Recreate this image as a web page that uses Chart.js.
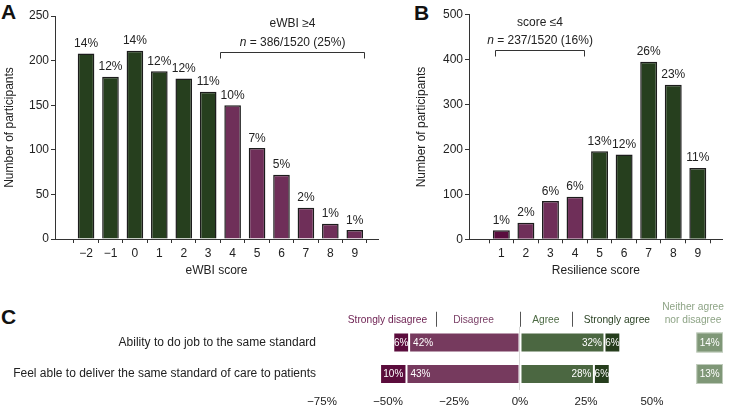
<!DOCTYPE html>
<html>
<head>
<meta charset="utf-8">
<script src="https://cdn.jsdelivr.net/npm/chart.js@4.4.0/dist/chart.umd.min.js"></script>
<style>
  body { margin: 0; background: #fff; width: 729px; height: 409px; overflow: hidden; position: relative; font-family: "Liberation Sans", Arial, sans-serif; }
  .panel { position: absolute; }
  .tag { position: absolute; font-weight: bold; font-size: 21px; line-height: 1; color: #111; }
</style>
</head>
<body>
<div class="tag" style="left:1px;top:1px">A</div>
<div class="tag" style="left:414px;top:2px">B</div>
<div class="tag" style="left:1px;top:306px">C</div>
<div class="panel" style="left:0;top:0"><canvas id="chartA" width="390" height="290"></canvas></div>
<div class="panel" style="left:380px;top:0"><canvas id="chartB" width="349" height="290"></canvas></div>
<div class="panel" style="left:0;top:290px"><canvas id="chartC" width="729" height="119"></canvas></div>
<script>
const FONT = '"Liberation Sans", Arial, Helvetica, sans-serif';
Chart.defaults.font.family = FONT;
Chart.defaults.font.size = 12;
Chart.defaults.color = '#222';
Chart.defaults.animation = false;

// Panel A - eWBI score
const ewbiScores = [-2, -1, 0, 1, 2, 3, 4, 5, 6, 7, 8, 9];
const ewbiCounts = [208, 182, 211, 188, 180, 165, 150, 102, 72, 35, 17, 10];
const ewbiPct = ['14%', '12%', '14%', '12%', '12%', '11%', '10%', '7%', '5%', '2%', '1%', '1%'];
const ewbiTicks = [0, 50, 100, 150, 200, 250];

// Panel B - resilience score
const resScores = [1, 2, 3, 4, 5, 6, 7, 8, 9];
const resCounts = [20, 37, 85, 95, 196, 189, 395, 344, 159];
const resPct = ['1%', '2%', '6%', '6%', '13%', '12%', '26%', '23%', '11%'];
const resTicks = [0, 100, 200, 300, 400, 500];

// Panel C - likert items
const likertItems = ['Ability to do job to the same standard', 'Feel able to deliver the same standard of care to patients'];
const stronglyDisagree = [6, 10];
const disagree = [42, 43];
const agree = [32, 28];
const stronglyAgree = [6, 6];
const neutral = [14, 13];
const likertTicks = [-75, -50, -25, 0, 25, 50];

const GREEN = '#263f1e';
const PURPLE = '#6f2f59';
const DARK_PURPLE = '#5a0d3e';

const fmtNum = v => String(v).replace('-', '\u2212');

// percentage text above each bar
const barLabels = {
  id: 'barLabels',
  afterDatasetsDraw(chart, args, opts) {
    const { ctx } = chart;
    ctx.save();
    ctx.font = `12px ${FONT}`;
    ctx.fillStyle = '#222';
    ctx.textAlign = 'center';
    ctx.textBaseline = 'alphabetic';
    chart.getDatasetMeta(0).data.forEach((bar, i) => {
      ctx.fillText(opts.labels[i], bar.x, bar.y - 6.5);
    });
    ctx.restore();
  }
};

// bracket with the "n = ..." note
const bracket = {
  id: 'bracket',
  afterDraw(chart, args, o) {
    const { ctx, chartArea } = chart;
    const x = chart.scales.x;
    const x1 = Math.round(x.getPixelForValue(o.from)) + 0.5;
    const x2 = Math.round(x.getPixelForValue(o.to === 'max' ? x.max : o.to)) - 0.5;
    const y = Math.round(chartArea.top + 35.5) + 0.5;
    ctx.save();
    ctx.strokeStyle = '#333';
    ctx.lineWidth = 1;
    ctx.beginPath();
    ctx.moveTo(x1, y + 6); ctx.lineTo(x1, y); ctx.lineTo(x2, y); ctx.lineTo(x2, y + 6);
    ctx.stroke();
    const cx = (x1 + x2) / 2;
    ctx.fillStyle = '#222';
    ctx.textBaseline = 'alphabetic';
    ctx.textAlign = 'center';
    ctx.font = `12px ${FONT}`;
    ctx.fillText(o.title, cx, chartArea.top + 11);
    const rest = ' = ' + o.n;
    ctx.font = `italic 12px ${FONT}`;
    const wn = ctx.measureText('n').width;
    ctx.font = `12px ${FONT}`;
    const wr = ctx.measureText(rest).width;
    const sx = cx - (wn + wr) / 2;
    ctx.textAlign = 'left';
    ctx.font = `italic 12px ${FONT}`;
    ctx.fillText('n', sx, chartArea.top + 29.5);
    ctx.font = `12px ${FONT}`;
    ctx.fillText(rest, sx + wn, chartArea.top + 29.5);
    ctx.restore();
  }
};

function histOptions(cfg) {
  return {
    responsive: false,
    layout: { padding: cfg.padding },
    plugins: {
      legend: { display: false },
      tooltip: { enabled: false },
      barLabels: { labels: cfg.pct },
      bracket: cfg.bracket
    },
    scales: {
      x: {
        type: 'linear', min: cfg.xMin, max: cfg.xMax,
        afterBuildTicks: s => { s.ticks = cfg.scores.map(v => ({ value: v })); },
        ticks: { callback: v => fmtNum(v), padding: 3, color: '#222', font: { size: 12 }, maxRotation: 0 },
        grid: { drawOnChartArea: false, drawTicks: true, tickLength: 4, color: '#333' },
        border: { color: '#333', width: 1 },
        title: { display: true, text: cfg.xTitle, padding: { top: 0, bottom: 12 }, font: { size: 12 }, color: '#222' },
        afterFit: s => { s.height = cfg.xHeight; }
      },
      y: {
        min: 0, max: cfg.yTicks[cfg.yTicks.length - 1],
        afterBuildTicks: s => { s.ticks = cfg.yTicks.map(v => ({ value: v })); },
        ticks: { padding: 2, color: '#222', font: { size: 12 } },
        grid: { drawOnChartArea: false, drawTicks: true, tickLength: 4, color: '#333' },
        border: { color: '#333', width: 1 },
        title: { display: true, text: 'Number of participants', padding: { top: cfg.yTitlePad, bottom: 0 }, font: { size: 12 }, color: '#222' },
        afterFit: s => { s.width = cfg.yWidth; }
      }
    }
  };
}

new Chart(document.getElementById('chartA'), {
  type: 'bar',
  data: {
    datasets: [{
      data: ewbiScores.map((s, i) => ({ x: s, y: ewbiCounts[i] })),
      backgroundColor: ewbiScores.map(s => s >= 4 ? PURPLE : GREEN),
      borderColor: '#1c1c1c',
      borderWidth: 1.5,
      borderSkipped: 'bottom',
      barPercentage: 0.68,
      categoryPercentage: 1
    }]
  },
  options: histOptions({
    padding: { left: 0, top: 16, right: 12, bottom: 0 },
    pct: ewbiPct, scores: ewbiScores, yTicks: ewbiTicks,
    xMin: -2.72, xMax: 9.4, xTitle: 'eWBI score', xHeight: 51,
    yWidth: 55, yTitlePad: 2.8,
    bracket: { from: 3.5, to: 'max', title: 'eWBI \u22654', n: '386/1520 (25%)' }
  }),
  plugins: [barLabels, bracket]
});

new Chart(document.getElementById('chartB'), {
  type: 'bar',
  data: {
    datasets: [{
      data: resScores.map((s, i) => ({ x: s, y: resCounts[i] })),
      backgroundColor: resScores.map(s => s === 1 ? DARK_PURPLE : (s <= 4 ? PURPLE : GREEN)),
      borderColor: '#1c1c1c',
      borderWidth: 1.5,
      borderSkipped: 'bottom',
      barPercentage: 0.69,
      categoryPercentage: 1
    }]
  },
  options: histOptions({
    padding: { left: 34.5, top: 14.7, right: 6.3, bottom: 0 },
    pct: resPct, scores: resScores, yTicks: resTicks,
    xMin: 0.257, xMax: 9.44, xTitle: 'Resilience score', xHeight: 50.7,
    yWidth: 54.5, yTitlePad: 0,
    bracket: { from: 0.75, to: 4.42, title: 'score \u22644', n: '237/1520 (16%)' }
  }),
  plugins: [barLabels, bracket]
});

// Panel C helpers
const segLabels = {
  id: 'segLabels',
  afterDatasetsDraw(chart) {
    const { ctx } = chart;
    ctx.save();
    ctx.font = `10px ${FONT}`;
    ctx.fillStyle = '#fff';
    ctx.textBaseline = 'middle';
    chart.data.datasets.forEach((ds, di) => {
      chart.getDatasetMeta(di).data.forEach((el, i) => {
        const left = Math.min(el.x, el.base), right = Math.max(el.x, el.base);
        const txt = Math.abs(ds.data[i]) + '%';
        if (ds.labelAlign === 'start') { ctx.textAlign = 'left'; ctx.fillText(txt, left + 4, el.y + 0.5); }
        else if (ds.labelAlign === 'end') { ctx.textAlign = 'right'; ctx.fillText(txt, right - 2.5, el.y + 0.5); }
        else { ctx.textAlign = 'center'; ctx.fillText(txt, (left + right) / 2, el.y + 0.5); }
      });
    });
    ctx.restore();
  }
};

const likertHeader = {
  id: 'likertHeader',
  afterDraw(chart, args, o) {
    const { ctx, chartArea } = chart;
    const x = chart.scales.x, y = chart.scales.y;
    const top = chartArea.top;
    ctx.save();
    ctx.font = `10.2px ${FONT}`;
    ctx.textBaseline = 'middle';
    ctx.textAlign = 'center';
    o.headers.forEach(h => {
      ctx.fillStyle = h.color;
      ctx.fillText(h.text, x.getPixelForValue(h.at), top - 6.5);
    });
    ctx.strokeStyle = '#555';
    ctx.lineWidth = 1;
    o.separators.forEach(v => {
      const px = Math.round(x.getPixelForValue(v)) + 0.5;
      ctx.beginPath(); ctx.moveTo(px, top - 15); ctx.lineTo(px, top); ctx.stroke();
    });
    // neutral column
    const nx1 = chartArea.right - 26.7, nx2 = chartArea.right;
    ctx.fillStyle = '#8ea486';
    ctx.fillText('Neither agree', chartArea.right - 30, top - 19.5);
    ctx.fillText('nor disagree', chartArea.right - 30, top - 6.5);
    ctx.font = `10px ${FONT}`;
    neutral.forEach((v, i) => {
      const cy = y.getPixelForValue(i);
      ctx.fillStyle = '#7f9777';
      ctx.fillRect(nx1, cy - 10, nx2 - nx1, 20);
      ctx.strokeStyle = 'rgba(255,255,255,0.5)';
      ctx.strokeRect(nx1 + 0.5, cy - 9.5, nx2 - nx1 - 1, 19);
      ctx.fillStyle = '#fff';
      ctx.fillText(v + '%', (nx1 + nx2) / 2, cy + 0.5);
    });
    ctx.restore();
  }
};

const segBase = { stack: 's', barPercentage: 0.635, categoryPercentage: 1, borderWidth: 1, borderColor: 'rgba(255,255,255,0.45)', borderSkipped: false };

new Chart(document.getElementById('chartC'), {
  type: 'bar',
  data: {
    labels: likertItems,
    datasets: [
      { ...segBase, label: 'Disagree', data: disagree.map(v => -v), backgroundColor: '#763a5e', labelAlign: 'start' },
      { ...segBase, label: 'Strongly disagree', data: stronglyDisagree.map(v => -v), backgroundColor: '#5b0c3c', labelAlign: 'center' },
      { ...segBase, label: 'Agree', data: agree, backgroundColor: '#4b6741', labelAlign: 'end' },
      { ...segBase, label: 'Strongly agree', data: stronglyAgree, backgroundColor: '#253d1c', labelAlign: 'center' }
    ]
  },
  options: {
    responsive: false,
    indexAxis: 'y',
    layout: { padding: { left: 0, top: 36.75, right: 6, bottom: 0 } },
    plugins: {
      legend: { display: false },
      tooltip: { enabled: false },
      likertHeader: {
        headers: [
          { text: 'Strongly disagree', at: -50.2, color: '#6b1d4f' },
          { text: 'Disagree', at: -17.6, color: '#7a3f66' },
          { text: 'Agree', at: 9.8, color: '#4c6a43' },
          { text: 'Strongly agree', at: 36.7, color: '#2b4324' }
        ],
        separators: [-31.8, 0, 19.6]
      }
    },
    scales: {
      x: {
        type: 'linear', stacked: true, min: -75, max: 76.9,
        afterBuildTicks: s => { s.ticks = likertTicks.map(v => ({ value: v })); },
        ticks: { callback: v => fmtNum(v) + '%', padding: 5, color: '#222', font: { size: 11.5 }, maxRotation: 0 },
        grid: { drawTicks: false, color: c => c.tick && c.tick.value === 0 ? '#d9d9d9' : 'transparent' },
        border: { display: false },
        afterFit: s => { s.height = 19.25; }
      },
      y: {
        stacked: true,
        ticks: { padding: 6, color: '#222', font: { size: 12 } },
        grid: { display: false, drawTicks: false },
        border: { display: false },
        afterFit: s => { s.width = 322; }
      }
    }
  },
  plugins: [segLabels, likertHeader]
});
</script>
</body>
</html>
